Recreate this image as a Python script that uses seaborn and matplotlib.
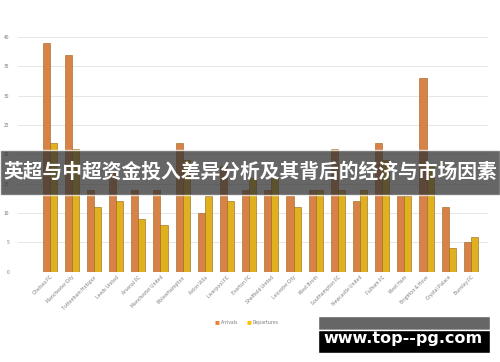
import pandas as pd
import matplotlib.pyplot as plt
import seaborn as sns
from matplotlib.patches import Rectangle

# dados
times = ["Chelsea FC", "Manchester City", "Tottenham Hotspur", "Leeds United",
         "Arsenal FC", "Manchester United", "Wolverhampton", "Aston Villa",
         "Liverpool FC", "Everton FC", "Sheffield United", "Leicester City",
         "West Brom", "Southampton FC", "Newcastle United", "Fulham FC",
         "West Ham", "Brighton & Hove", "Crystal Palace", "Burnley FC"]
arrivals = [39, 37, 14, 17, 14, 14, 22, 10, 18, 14, 14, 13, 14, 21, 12, 22, 13, 33, 11, 5]
departures = [22, 21, 11, 12, 9, 8, 19, 13, 12, 16, 16, 11, 14, 14, 14, 19, 13, 18, 4, 6]
series = ["Arrivals", "Departures"]
yticks = [0, 5, 10, 15, 20, 25, 30, 35, 40]
titulo = "英超与中超资金投入差异分析及其背后的经济与市场因素"
site = "www.top--pg.com"

df = pd.DataFrame({"time": times * 2,
                   "serie": [series[0]] * len(times) + [series[1]] * len(times),
                   "valor": arrivals + departures})

sns.set_style("white")
plt.rcParams['font.family'] = ['Noto Sans CJK SC', 'DejaVu Sans']

fig = plt.figure(figsize=(5, 3.62), dpi=100)
ax = fig.add_axes([0.035, 0.249, 0.94, 0.649])

sns.barplot(data=df, x="time", y="valor", hue="serie",
            palette=["#ED7D31", "#FFC000"], width=0.64, gap=0,
            edgecolor="#9a6010", linewidth=0.4, ax=ax, legend=False)

ax.set_ylim(0, 40)
ax.set_xlim(-1.45, 19.75)
ax.set_yticks(yticks)
ax.set_yticklabels([str(v) for v in yticks], fontsize=3.5, color="#777777")
ax.yaxis.grid(True, color="#e6e6e6", linewidth=0.7)
ax.set_axisbelow(True)
ax.tick_params(axis="y", length=0, pad=6)
ax.tick_params(axis="x", length=0, pad=2)
ax.set_xticks(range(len(times)))
ax.set_xticklabels(times, rotation=45, ha="right", rotation_mode="anchor",
                   fontsize=3.5, color="#777777")
ax.set_xlabel("")
ax.set_ylabel("")
for s in ax.spines.values():
    s.set_visible(False)
ax.axhline(0, color="#dddddd", linewidth=0.7)

# legenda
fig.text(0.43, 0.108, "■", color="#ED7D31", fontsize=3.5, va="center")
fig.text(0.442, 0.108, "Arrivals", color="#777777", fontsize=3.5, va="center")
fig.text(0.493, 0.108, "■", color="#FFC000", fontsize=3.5, va="center")
fig.text(0.505, 0.108, "Departures", color="#777777", fontsize=3.5, va="center")

# faixa do título
fig.patches.append(Rectangle((0, 1 - 195 / 362), 1, 45 / 362, transform=fig.transFigure,
                             facecolor="#333333", alpha=0.75, zorder=5))
fig.text(0.5, 1 - 172 / 362, titulo, color="white", fontsize=14.2, fontweight="bold",
         ha="center", va="center", zorder=6)

# marca d'água
fig.patches.append(Rectangle((318 / 500, 1 - 330 / 362), 172 / 500, 14 / 362,
                             transform=fig.transFigure, facecolor="#666666", zorder=5))
fig.patches.append(Rectangle((318 / 500, 1 - 353 / 362), 172 / 500, 23 / 362,
                             transform=fig.transFigure, facecolor="black", zorder=5))
fig.text(403 / 500, 1 - 338 / 362, site, color="white", fontsize=11.5, fontweight="bold",
         family="DejaVu Sans", ha="center", va="center", zorder=6)

fig.savefig("out.png", dpi=100)
